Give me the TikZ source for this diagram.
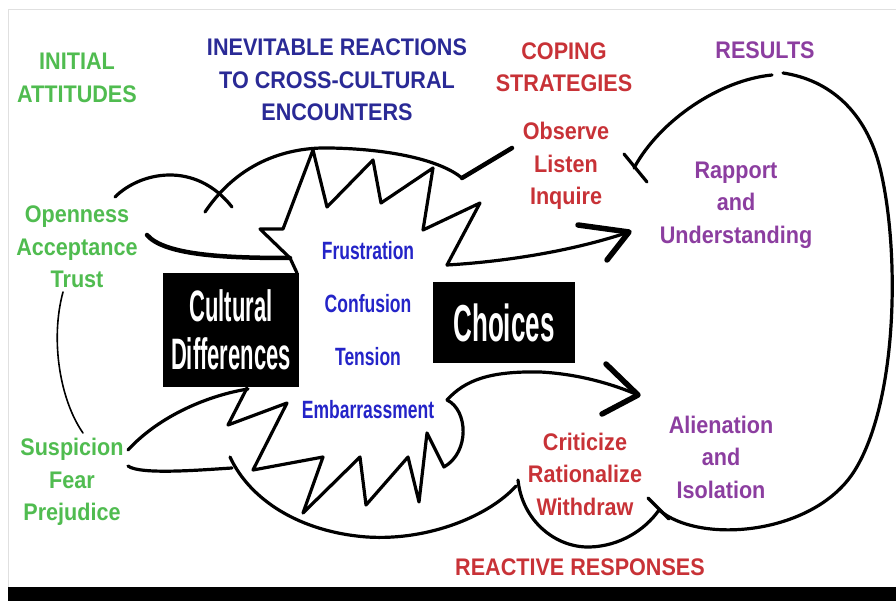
\documentclass[tikz,border=0pt]{standalone}
\usepackage{fontspec}
\setmainfont{Liberation Sans}
\newfontfamily\headfont{Liberation Sans}[FakeStretch=0.9]
\newfontfamily\burstfont{Liberation Sans}[FakeStretch=0.7]
\newfontfamily\boxfont{Liberation Sans}[FakeStretch=0.5]

\definecolor{gruen}{RGB}{80,188,80}
\definecolor{dunkelblau}{RGB}{42,42,150}
\definecolor{blau}{RGB}{36,36,200}
\definecolor{rot}{RGB}{200,50,55}
\definecolor{lila}{RGB}{140,62,160}

\begin{document}
\begin{tikzpicture}[x=1pt, y=-1pt,
    lbl/.style={font={\headfont\bfseries\fontsize{24}{32.5}\selectfont}, align=center, inner sep=0pt},
    gefuehl/.style={font={\burstfont\bfseries\fontsize{25}{53}\selectfont}, align=center, inner sep=0pt, text=blau},
    schwarzbox/.style={fill=black, text=white, align=center, inner sep=0pt},
    strich/.style={line width=3.2pt, line cap=round, line join=round},
    dickstrich/.style={line width=5.5pt, line cap=round, line join=round},
    duennstrich/.style={line width=1.6pt, line cap=round}]

    % 1. Rahmen und Hintergrund
    \useasboundingbox (0,0) rectangle (896,601);
    \fill[white] (0,0) rectangle (896,601);
    \draw[black!12, line width=1pt] (8.5,587) -- (8.5,9.5) -- (896,9.5);
    \fill[black] (8,587) rectangle (896,601);

    % 2. Hilfspunkte der Verbindungslinien
    \coordinate (O) at (115,197);   % Openness oben
    \coordinate (A) at (147,235);   % Acceptance
    \coordinate (S) at (128,450);   % Suspicion
    \coordinate (P) at (128,466);   % Suspicion unten
    \coordinate (K) at (290,258);   % Knick am Stern links
    \coordinate (V) at (462,178);   % Knick vor Observe
    \coordinate (R) at (447,265);   % Stern rechts oben
    \coordinate (E) at (447,400);   % Stern rechts unten
    \coordinate (T1) at (629,232);  % Pfeilspitze oben
    \coordinate (T2) at (638,395);  % Pfeilspitze unten
    \coordinate (X1) at (634,168);  % Kreuz bei Observe
    \coordinate (X2) at (659,510);  % Kreuz bei Withdraw

    % 3. Bögen oben
    \draw[strich] (O) .. controls (140,172) and (195,160) .. (232,207);
    \draw[strich] (205,212) .. controls (240,160) and (290,147) .. (330,148)
        .. controls (390,149) and (440,160) .. (V);
    \draw[line width=4.5pt, line cap=round] (V) -- (512,148);
    \draw[line width=4.5pt, line cap=round] (A) .. controls (165,256) and (230,258) .. (K);

    % 4. Der Stern (Gefühle)
    \draw[strich] (297,273) -- (K) -- (260,229) -- (283,229) -- (313,150)
        -- (327,207) -- (373,160) -- (381,203) -- (433,168) -- (423,230)
        -- (480,203) -- (R);
    \draw[strich] (247,388) -- (228,425) -- (287,403) -- (253,470) -- (323,457)
        -- (303,513) -- (360,457) -- (366,505) -- (408,457) -- (419,502)
        -- (427,433) -- (444,467) .. controls (470,452) and (468,410) .. (E);

    % 5. Pfeile zu den Ergebnissen
    \draw[strich] (R) .. controls (500,262) and (570,252) .. (T1);
    \draw[dickstrich] (578,225) -- (T1) -- (607,260);
    \draw[strich] (E) .. controls (465,380) and (490,371) .. (540,372)
        .. controls (580,374) and (615,385) .. (T2);
    \draw[dickstrich] (606,364) -- (T2) -- (602,414);

    % 6. Untere Bögen und großer Kreislauf rechts
    \draw[strich] (S) .. controls (160,415) and (210,395) .. (248,389);
    \draw[strich] (P) .. controls (140,475) and (200,470) .. (232,468);
    \draw[strich] (230,457) .. controls (250,500) and (300,532) .. (367,537)
        .. controls (430,541) and (490,515) .. (516,486);
    \draw[strich] (518,480) .. controls (522,520) and (555,548) .. (590,547)
        .. controls (620,546) and (645,530) .. (X2)
        .. controls (700,545) and (815,535) .. (855,470)
        .. controls (898,400) and (900,250) .. (880,168)
        .. controls (866,112) and (830,80) .. (783,73);
    \draw[strich] (772,75) .. controls (720,80) and (660,120) .. (X1);
    \draw[strich] (624,154) -- (647,182);
    \draw[strich] (648,498) -- (669,519);
    \draw[duennstrich] (63,292) .. controls (50,340) and (60,400) .. (83,433);

    % 7. Schwarze Kästen
    \node[schwarzbox, minimum width=136pt, minimum height=114pt,
          font={\boxfont\bfseries\fontsize{44}{48}\selectfont}] (kultur) at (231,330)
        {Cultural\\Differences};
    \node[schwarzbox, minimum width=142pt, minimum height=81pt,
          font={\boxfont\bfseries\fontsize{52}{52}\selectfont}] (wahl) at (504,322.5)
        {Choices};

    % 8. Überschriften
    \node[lbl, text=gruen] (haltung) at (77,78) {INITIAL\\ATTITUDES};
    \node[lbl, text=dunkelblau] (reaktion) at (337,80) {INEVITABLE REACTIONS\\TO CROSS-CULTURAL\\ENCOUNTERS};
    \node[lbl, text=rot] (strategie) at (564,67) {COPING\\STRATEGIES};
    \node[lbl, text=lila] (ergebnis) at (765,50) {RESULTS};
    \node[lbl, text=rot] (antwort) at (580,567) {REACTIVE RESPONSES};

    % 9. Beschriftungen
    \node[lbl, text=gruen] (offen) at (77,247) {Openness\\Acceptance\\Trust};
    \node[lbl, text=gruen] (misstrauen) at (72,482) {Suspicion\\Fear\\Prejudice};
    \node[gefuehl] (gefuehle) at (368,330) {Frustration\\Confusion\\Tension\\Embarrassment};
    \node[lbl, text=rot] (beobachten) at (566,166) {Observe\\Listen\\Inquire};
    \node[lbl, text=lila] (rapport) at (736,205) {Rapport\\and\\Understanding};
    \node[lbl, text=rot] (kritik) at (585,474) {Criticize\\Rationalize\\Withdraw};
    \node[lbl, text=lila] (isolation) at (721,457) {Alienation\\and\\Isolation};

\end{tikzpicture}
\end{document}
